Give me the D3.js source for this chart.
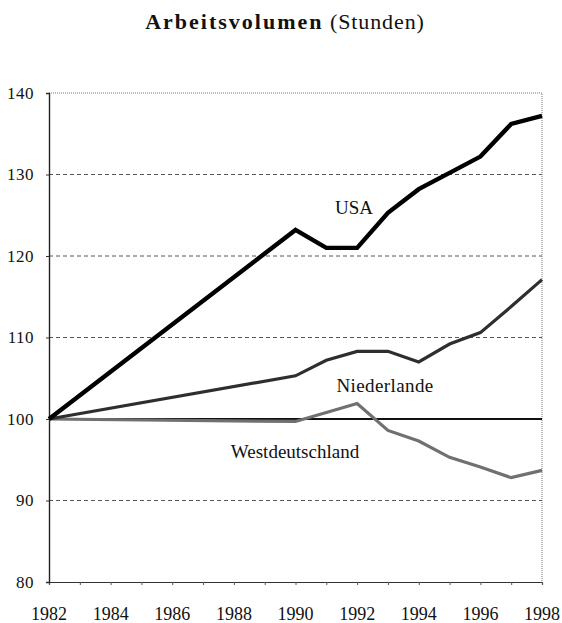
<!doctype html>
<html>
<head>
<meta charset="UTF-8">
<title>Arbeitsvolumen</title>
<script src="https://d3js.org/d3.v7.min.js"></script>
<style>
  body { margin: 0; background: #fff; }
  text { font-family: "Liberation Serif", "Times New Roman", serif; fill: #111; }
</style>
</head>
<body>
<script>
// data (index, 1982 = 100)
var usaYears = [1982, 1990, 1991, 1992, 1993, 1994, 1995, 1996, 1997, 1998];
var usaVals  = [100, 123.2, 121.0, 121.0, 125.3, 128.2, 130.2, 132.2, 136.2, 137.2];

var nlYears = [1982, 1990, 1991, 1992, 1993, 1994, 1995, 1996, 1997, 1998];
var nlVals  = [100, 105.3, 107.2, 108.3, 108.3, 107.0, 109.2, 110.6, 113.8, 117.1];

var wdYears = [1982, 1990, 1991, 1992, 1993, 1994, 1995, 1996, 1997, 1998];
var wdVals  = [100, 99.7, 100.8, 101.9, 98.6, 97.3, 95.3, 94.1, 92.8, 93.7];

var yTicks = [80, 90, 100, 110, 120, 130, 140];
var xLabels = [1982, 1984, 1986, 1988, 1990, 1992, 1994, 1996, 1998];

var w = 562, h = 623;
var padL = 49, padR = 542, padT = 93, padB = 582;

var svg = d3.select("body").append("svg")
  .attr("width", w)
  .attr("height", h);

var x = d3.scaleLinear().domain([1982, 1998]).range([padL, padR]);
var y = d3.scaleLinear().domain([80, 140]).range([padB, padT]);

// title
var title = svg.append("text")
  .attr("x", 285)
  .attr("y", 29)
  .attr("text-anchor", "middle")
  .style("font-size", "22px");
title.append("tspan").text("Arbeitsvolumen").style("font-weight", "bold").style("letter-spacing", "2px");
title.append("tspan").text(" (Stunden)").style("letter-spacing", "0.9px");

// grid lines
svg.selectAll("line.grid")
  .data([90, 110, 120, 130])
  .enter().append("line")
  .attr("class", "grid")
  .attr("x1", padL).attr("x2", padR)
  .attr("y1", function(d){ return y(d); })
  .attr("y2", function(d){ return y(d); })
  .attr("stroke", "#444")
  .attr("stroke-width", 0.9)
  .attr("stroke-dasharray", "4,3");

// frame: top and right dotted
svg.append("path")
  .attr("d", "M" + padL + "," + y(140) + "H" + padR + "V" + padB)
  .attr("fill", "none")
  .attr("stroke", "#777")
  .attr("stroke-width", 1)
  .attr("stroke-dasharray", "1,1");

// x axis
var xAxis = d3.axisBottom(x)
  .tickValues(d3.range(1982, 1999))
  .tickSize(3)
  .tickFormat("");
svg.append("g")
  .attr("transform", "translate(0," + padB + ")")
  .call(xAxis)
  .call(function(g){
    g.select(".domain").attr("stroke", "#333").attr("stroke-width", 1.2);
    g.selectAll(".tick line").attr("stroke", "#555");
  });

svg.selectAll("text.xl")
  .data(xLabels)
  .enter().append("text")
  .attr("class", "xl")
  .attr("x", function(d){ return x(d); })
  .attr("y", 620)
  .attr("text-anchor", "middle")
  .style("font-size", "18px")
  .text(function(d){ return d; });

// y axis
var yAxis = d3.axisLeft(y)
  .tickValues(yTicks)
  .tickSize(3)
  .tickPadding(12)
  .tickFormat(d3.format("d"));
svg.append("g")
  .attr("transform", "translate(" + padL + ",0)")
  .call(yAxis)
  .call(function(g){
    g.select(".domain").attr("stroke", "#222").attr("stroke-width", 1.4);
    g.selectAll(".tick line").attr("stroke", "#333");
    g.selectAll(".tick text")
      .style("font-family", "'Liberation Serif', serif")
      .style("font-size", "17px")
      .style("letter-spacing", "0.5px")
      .attr("fill", "#111");
  });

// reference line at 100
svg.append("line")
  .attr("x1", x(1982)).attr("x2", x(1998))
  .attr("y1", y(100)).attr("y2", y(100))
  .attr("stroke", "#111")
  .attr("stroke-width", 1.8);

var line = d3.line()
  .x(function(d){ return x(d[0]); })
  .y(function(d){ return y(d[1]); });

function pairs(years, vals){
  return years.map(function(yr, i){ return [yr, vals[i]]; });
}

svg.append("path")
  .datum(pairs(wdYears, wdVals))
  .attr("d", line)
  .attr("fill", "none")
  .attr("stroke", "#707070")
  .attr("stroke-width", 3.2)
  .attr("stroke-linejoin", "miter");

svg.append("path")
  .datum(pairs(nlYears, nlVals))
  .attr("d", line)
  .attr("fill", "none")
  .attr("stroke", "#2e2e2e")
  .attr("stroke-width", 3.2)
  .attr("stroke-linejoin", "miter");

svg.append("path")
  .datum(pairs(usaYears, usaVals))
  .attr("d", line)
  .attr("fill", "none")
  .attr("stroke", "#000")
  .attr("stroke-width", 4.4)
  .attr("stroke-linejoin", "miter");

// series labels
svg.append("text").attr("x", 354).attr("y", 214).attr("text-anchor", "middle")
  .style("font-size", "19px").text("USA");
svg.append("text").attr("x", 385).attr("y", 392).attr("text-anchor", "middle")
  .style("font-size", "19px").style("letter-spacing", "0.4px").text("Niederlande");
svg.append("text").attr("x", 295).attr("y", 458).attr("text-anchor", "middle")
  .style("font-size", "19px").text("Westdeutschland");
</script>
</body>
</html>
